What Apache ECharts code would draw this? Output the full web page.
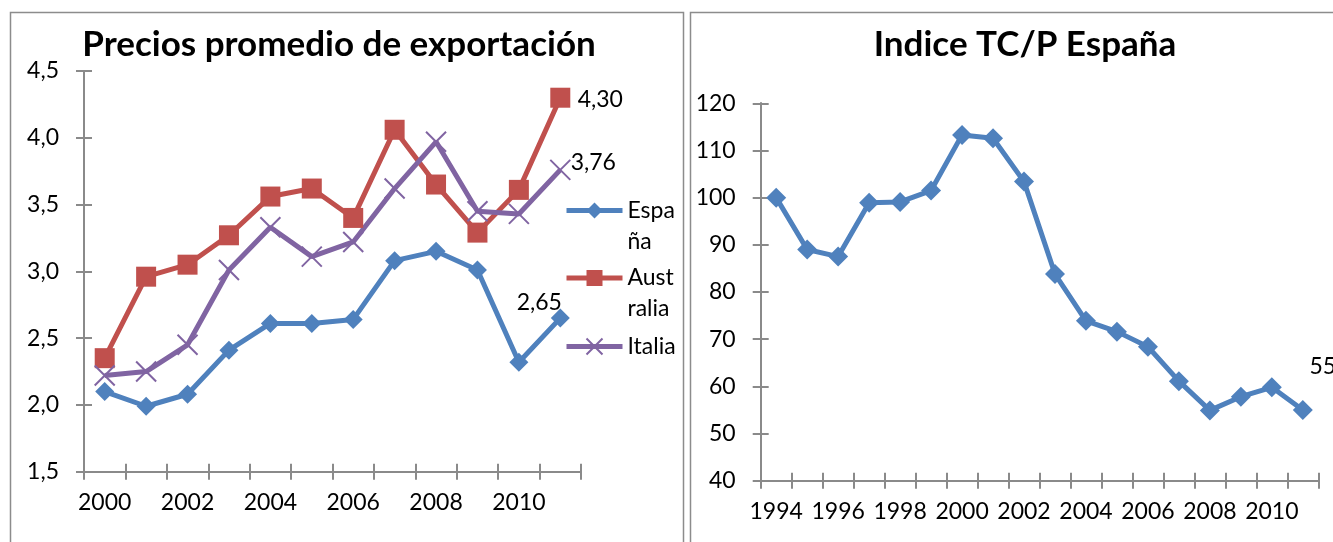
<!DOCTYPE html>
<html><head><meta charset="utf-8">
<script src="https://cdn.jsdelivr.net/npm/echarts@6/dist/echarts.min.js"></script>
<style>html,body{margin:0;padding:0;background:#fff}#c{width:1333px;height:542px}</style>
</head><body><div id="c"></div>
<script>
// ---- data ----
const yearsLeft = ['2000','2001','2002','2003','2004','2005','2006','2007','2008','2009','2010','2011'];
const espana    = [2.10, 1.99, 2.08, 2.41, 2.61, 2.61, 2.64, 3.08, 3.15, 3.01, 2.32, 2.65];
const australia = [2.35, 2.96, 3.05, 3.27, 3.56, 3.62, 3.40, 4.06, 3.65, 3.29, 3.61, 4.30];
const italia    = [2.22, 2.25, 2.45, 3.01, 3.33, 3.11, 3.22, 3.62, 3.97, 3.45, 3.43, 3.76];
const yearsRight = ['1994','1995','1996','1997','1998','1999','2000','2001','2002','2003','2004','2005','2006','2007','2008','2009','2010','2011'];
const indiceTCP  = [100, 89.0, 87.5, 98.9, 99.1, 101.5, 113.3, 112.6, 103.4, 83.8, 73.9, 71.6, 68.4, 61.1, 54.9, 57.8, 59.8, 55.0];
const leftTitle = 'Precios promedio de exportación';
const rightTitle = 'Indice TC/P España';
const seriesNames = ['España', 'Australia', 'Italia'];
const legendLabels = ['Espa\nña', 'Aust\nralia', 'Italia'];

// ---- styles ----
const FONT = 'Lato';
const FS = 23;
const AX = '#8a8a8a';
const C_BLUE = '#4F81BD', C_RED = '#C0504D', C_PURPLE = '#8064A2';
const X_PATH = 'path://M0,0L10,10M0,10L10,0';
const commaFmt = (d) => (v) => v.toFixed(d).replace('.', ',');

function withLastLabel(values, labelCfg) {
  return values.map((v, i) => i === values.length - 1 ? { value: v, label: labelCfg } : v);
}
function lastLabel(text, offset) {
  return { show: true, position: 'inside', offset: offset, formatter: text,
           fontFamily: FONT, fontSize: FS, color: '#000' };
}

function catAxis(grid, data, inside, showLabel) {
  return {
    type: 'category', gridIndex: grid, data: data, position: 'bottom', boundaryGap: true,
    axisLine: { show: true, lineStyle: { color: AX, width: 2 } },
    axisTick: { show: true, interval: 0, inside: inside, length: 8, lineStyle: { color: AX, width: 2 } },
    axisLabel: { show: showLabel, interval: 1, margin: 19, fontFamily: FONT, fontSize: FS, color: '#000' },
    splitLine: { show: false }
  };
}
function valAxis(grid, min, max, interval, fmt, inside, showLabel) {
  return {
    type: 'value', gridIndex: grid, position: 'left', min: min, max: max, interval: interval,
    axisLine: { show: true, lineStyle: { color: AX, width: 2 } },
    axisTick: { show: true, inside: inside, length: 8, lineStyle: { color: AX, width: 2 } },
    axisLabel: { show: showLabel, margin: 25, formatter: fmt, fontFamily: FONT, fontSize: FS, color: '#000' },
    splitLine: { show: false }
  };
}
function legendFor(idx, top) {
  const lines = legendLabels[idx].split('\n').length;
  return {
    show: true, data: [seriesNames[idx]], left: 564, top: top, padding: 0,
    orient: 'vertical', itemWidth: 56, itemHeight: 20, itemGap: 0, selectedMode: false,
    lineStyle: { width: 5 },
    formatter: () => (lines > 1 ? ' \n' : '') + legendLabels[idx],
    textStyle: { fontFamily: FONT, fontSize: FS, lineHeight: 31, color: '#000' }
  };
}

const chart = echarts.init(document.getElementById('c'), null, { renderer: 'canvas' });
chart.setOption({
  animation: false,
  backgroundColor: '#fff',
  graphic: [
    { type: 'rect', silent: true, z: -10, shape: { x: 10.5, y: 12.5, width: 673, height: 600 },
      style: { fill: 'none', stroke: '#8c8c8c', lineWidth: 1.5 } },
    { type: 'rect', silent: true, z: -10, shape: { x: 690.5, y: 12.5, width: 700, height: 600 },
      style: { fill: 'none', stroke: '#8c8c8c', lineWidth: 1.5 } }
  ],
  title: [
    { text: leftTitle, left: 339, top: 27, textAlign: 'center', padding: 0,
      textStyle: { fontFamily: FONT, fontWeight: 'bold', fontSize: 35, color: '#000' } },
    { text: rightTitle, left: 1025, top: 27, textAlign: 'center', padding: 0,
      textStyle: { fontFamily: FONT, fontWeight: 'bold', fontSize: 35, color: '#000' } }
  ],
  legend: [ legendFor(0, 164), legendFor(1, 231.5), legendFor(2, 331) ],
  grid: [
    { left: 84, top: 71, width: 497, height: 400.7, containLabel: false },
    { left: 760.7, top: 103.3, width: 557.6, height: 377.4, containLabel: false }
  ],
  xAxis: [
    catAxis(0, yearsLeft, false, true), catAxis(0, yearsLeft, true, false),
    catAxis(1, yearsRight, false, true), catAxis(1, yearsRight, true, false)
  ],
  yAxis: [
    valAxis(0, 1.5, 4.5, 0.5, commaFmt(1), false, true), valAxis(0, 1.5, 4.5, 0.5, commaFmt(1), true, false),
    valAxis(1, 40, 120, 10, (v) => String(v), false, true), valAxis(1, 40, 120, 10, (v) => String(v), true, false)
  ],
  series: [
    { name: seriesNames[0], type: 'line', xAxisIndex: 0, yAxisIndex: 0,
      data: withLastLabel(espana, lastLabel(commaFmt(2)(espana[espana.length - 1]), [-21, -16])),
      symbol: 'diamond', symbolSize: 19, showAllSymbol: true,
      itemStyle: { color: C_BLUE }, lineStyle: { color: C_BLUE, width: 5 } },
    { name: seriesNames[1], type: 'line', xAxisIndex: 0, yAxisIndex: 0,
      data: withLastLabel(australia, lastLabel(commaFmt(2)(australia[australia.length - 1]), [40, 2])),
      symbol: 'rect', symbolSize: 20, showAllSymbol: true,
      itemStyle: { color: C_RED }, lineStyle: { color: C_RED, width: 5 } },
    { name: seriesNames[2], type: 'line', xAxisIndex: 0, yAxisIndex: 0,
      data: withLastLabel(italia, lastLabel(commaFmt(2)(italia[italia.length - 1]), [33, -7])),
      symbol: X_PATH, symbolSize: 20, showAllSymbol: true,
      itemStyle: { color: C_PURPLE, borderColor: C_PURPLE, borderWidth: 2 },
      lineStyle: { color: C_PURPLE, width: 5 } },
    { name: 'Indice TC/P', type: 'line', xAxisIndex: 2, yAxisIndex: 2,
      data: withLastLabel(indiceTCP, lastLabel(String(Math.round(indiceTCP[indiceTCP.length - 1])), [20, -43])),
      symbol: 'diamond', symbolSize: 20, showAllSymbol: true,
      itemStyle: { color: C_BLUE }, lineStyle: { color: C_BLUE, width: 5 } }
  ]
});
</script>
</body></html>
